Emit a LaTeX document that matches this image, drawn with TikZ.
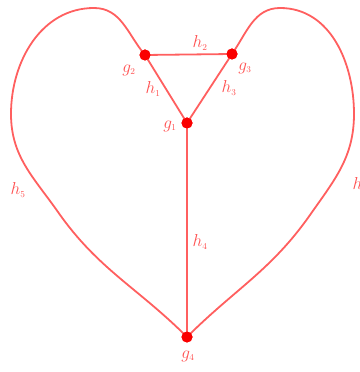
\documentclass[tikz,border=0pt]{standalone}
\begin{document}
\begin{tikzpicture}[x=1pt,y=1pt,
  edge/.style={draw={rgb,255:red,255;green,95;blue,95}, line width=1.8pt},
  vert/.style={circle, fill={rgb,255:red,250;green,0;blue,0}, inner sep=0pt, minimum size=11pt},
  lab/.style={text={rgb,255:red,255;green,80;blue,80}, font=\fontsize{18}{20}\selectfont, inner sep=0pt}]
\useasboundingbox (0,0) rectangle (359,372);
\node[vert] (g2) at (145,317) {};
\node[vert] (g3) at (232,318) {};
\node[vert] (g1) at (187,249) {};
\node[vert] (g4) at (187,35) {};
\coordinate (lt) at (94,364);
\coordinate (ll) at (11,258);
\coordinate (lb) at (58,160);
\coordinate (rt) at (280,364);
\coordinate (rr) at (354,258);
\coordinate (rb) at (310,157);
\draw[edge] (g2.center) -- (g3.center) -- (g1.center) -- (g2.center);
\draw[edge] (g1.center) -- (g4.center);
\draw[edge] (g2.center) to[out=130,in=0] (lt) to[out=180,in=90] (ll) to[out=-90,in=125] (lb) to[out=-55,in=135] (g4.center);
\draw[edge] (g3.center) to[out=55,in=180] (rt) to[out=0,in=90] (rr) to[out=-90,in=55] (rb) to[out=-125,in=45] (g4.center);
\node[vert] at (g2) {};
\node[vert] at (g3) {};
\node[vert] at (g1) {};
\node[vert] at (g4) {};
\node[lab] (lg2) at (129,302) {$g_{\scriptscriptstyle 2}$};
\node[lab] (lg3) at (245,304) {$g_{\scriptscriptstyle 3}$};
\node[lab] (lg1) at (170,246) {$g_{\scriptscriptstyle 1}$};
\node[lab] (lg4) at (188,16) {$g_{\scriptscriptstyle 4}$};
\node[lab] (lh2) at (200,329) {$h_{\scriptscriptstyle 2}$};
\node[lab] (lh1) at (153,283) {$h_{\scriptscriptstyle 1}$};
\node[lab] (lh3) at (229,284) {$h_{\scriptscriptstyle 3}$};
\node[lab] (lh4) at (200,130) {$h_{\scriptscriptstyle 4}$};
\node[lab] (lh5) at (18,182) {$h_{\scriptscriptstyle 5}$};
\node[lab] (lh6) at (360,187) {$h_{\scriptscriptstyle 6}$};
\end{tikzpicture}
\end{document}
